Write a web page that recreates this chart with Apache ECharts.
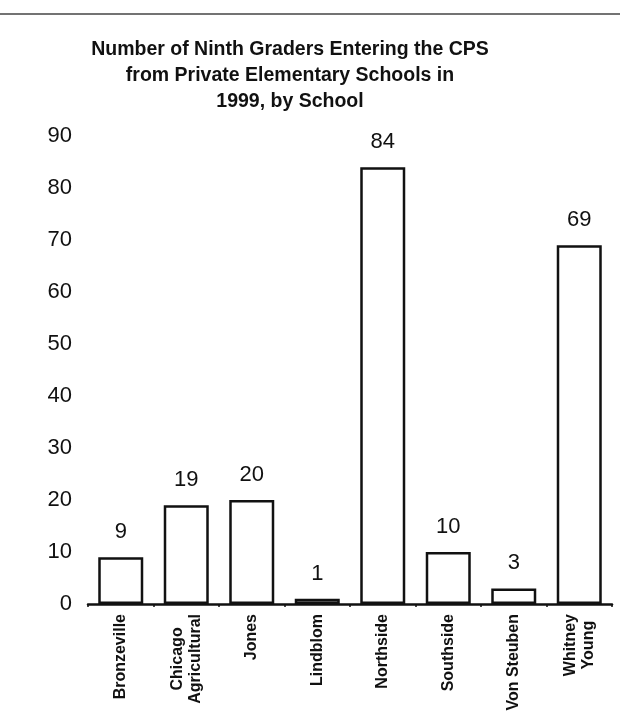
<!DOCTYPE html>
<html>
<head>
<meta charset="utf-8">
<script src="https://cdn.jsdelivr.net/npm/echarts@6/dist/echarts.min.js"></script>
<style>
  html, body { margin: 0; padding: 0; background: #fff; }
  #main { width: 620px; height: 717px; }
</style>
</head>
<body>
<div id="main"></div>
<script>
// chart data
const schools = ['Bronzeville', 'Chicago\nAgricultural', 'Jones', 'Lindblom', 'Northside', 'Southside', 'Von Steuben', 'Whitney\nYoung']
const students = [9, 19, 20, 1, 84, 10, 3, 69]
const yTicks = [0, 10, 20, 30, 40, 50, 60, 70, 80, 90]

const sans = '"Liberation Sans", Arial, sans-serif'

var myChart = echarts.init(document.getElementById('main'))

var option = {
  backgroundColor: '#fff',
  animation: false,
  title: {
    text: 'Number of Ninth Graders Entering the CPS\nfrom Private Elementary Schools in\n1999, by School',
    left: 285,
    top: 32,
    textAlign: 'center',
    textStyle: {
      fontFamily: sans,
      fontWeight: 'bold',
      fontSize: 19.5,
      lineHeight: 26,
      color: '#111'
    }
  },
  graphic: [{
    type: 'line',
    shape: { x1: 0, y1: 14, x2: 620, y2: 14 },
    style: { stroke: '#444', lineWidth: 1.5 }
  }],
  grid: { left: 88, right: 8, top: 136, bottom: 113 },
  xAxis: {
    type: 'category',
    data: schools,
    axisLine: { lineStyle: { color: '#111', width: 2.5 } },
    axisTick: { show: true, length: 3, lineStyle: { color: '#111', width: 1.5 } },
    axisLabel: {
      rotate: 90,
      margin: 10,
      color: '#111',
      fontFamily: sans,
      fontWeight: 'bold',
      fontSize: 16,
      interval: 0,
      formatter: v => v.split('\n').map(s => '{c|' + s + '}').join('\n'),
      rich: {
        c: { align: 'center', fontFamily: sans, fontWeight: 'bold', fontSize: 16, lineHeight: 18, color: '#111' }
      }
    }
  },
  yAxis: {
    type: 'value',
    min: yTicks[0],
    max: yTicks[yTicks.length - 1],
    interval: 10,
    axisLine: { show: false },
    axisTick: { show: false },
    splitLine: { show: false },
    axisLabel: {
      margin: 16,
      color: '#111',
      fontFamily: sans,
      fontSize: 22
    }
  },
  series: [{
    type: 'bar',
    data: students,
    barWidth: 45,
    itemStyle: {
      color: '#fff',
      borderColor: '#111',
      borderWidth: 2.5
    },
    label: {
      show: true,
      position: 'top',
      distance: 14,
      color: '#111',
      fontFamily: sans,
      fontSize: 22
    }
  }]
}

myChart.setOption(option)
</script>
</body>
</html>
